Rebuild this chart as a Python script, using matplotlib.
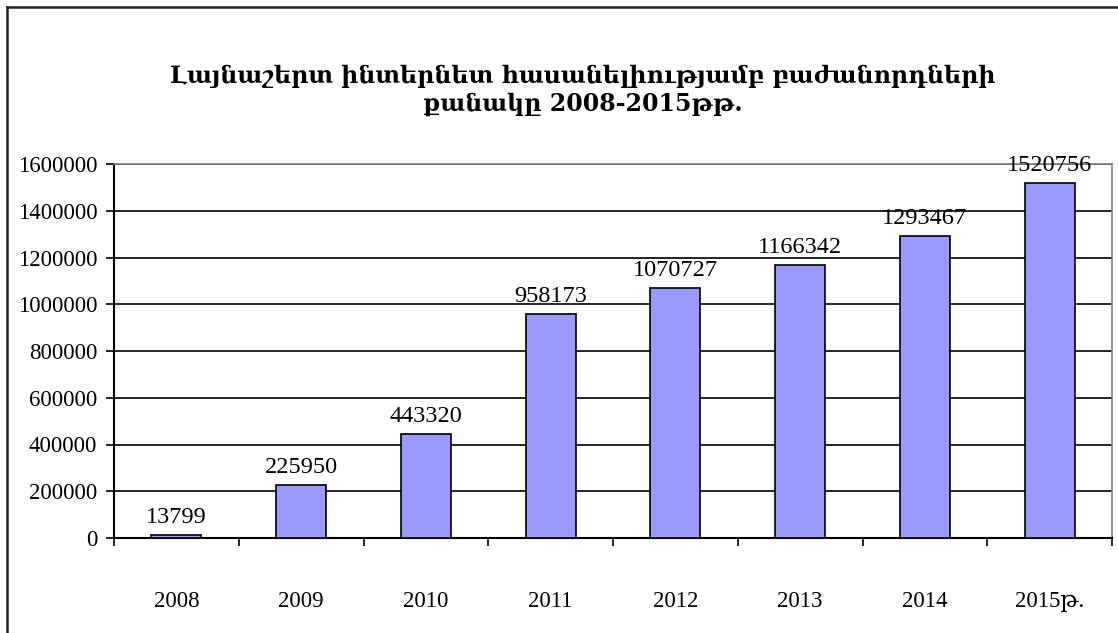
import numpy as np
import matplotlib.pyplot as plt
from matplotlib.lines import Line2D

years = ['2008', '2009', '2010', '2011', '2012', '2013', '2014', '2015թ.']
subscribers = [13799, 225950, 443320, 958173, 1070727, 1166342, 1293467, 1520756]
yticks = [0, 200000, 400000, 600000, 800000, 1000000, 1200000, 1400000, 1600000]
title = 'Լայնաշերտ ինտերնետ հասանելիությամբ բաժանորդների\nքանակը 2008-2015թթ.'

serif = ['Liberation Serif', 'DejaVu Serif']
fig = plt.figure(figsize=(11.18, 6.33), dpi=100)
ax = fig.add_axes([114/1118, 1 - 538/633, 998/1118, 374/633])

x = np.arange(len(years))
ax.bar(x, subscribers, width=0.4, color='#9999ff', edgecolor='black', linewidth=1.2, zorder=3)
for xi, v in zip(x, subscribers):
    ax.annotate(str(v), (xi, v), xytext=(0, 5), textcoords='offset points',
                ha='center', va='bottom', fontsize=17.5, family=serif, zorder=4)

ax.set_xlim(-0.5, len(years) - 0.5)
ax.set_ylim(0, 1600000)
ax.set_yticks(yticks)
ax.set_yticklabels([str(t) for t in yticks], family=serif, fontsize=16.5)
ax.yaxis.grid(True, color='black', linewidth=1.2, zorder=0)
ax.set_axisbelow(True)

ax.set_xticks(x)
ax.set_xticklabels(years, family=serif, fontsize=16.5)
ax.set_xticks(np.arange(len(years) + 1) - 0.5, minor=True)
ax.tick_params(axis='x', which='major', length=0, pad=38)
ax.tick_params(axis='x', which='minor', length=6, width=1.2, direction='out')
ax.tick_params(axis='y', length=6, width=1.2, direction='out', pad=6)

for s in ['left', 'bottom']:
    ax.spines[s].set_linewidth(1.5)
    ax.spines[s].set_color('black')
for s in ['top', 'right']:
    ax.spines[s].set_color('#808080')
    ax.spines[s].set_linewidth(1.2)

fig.text(583/1118, 1 - 90/633, title, ha='center', va='center', fontsize=17,
         fontweight='bold', family=['DejaVu Serif'], linespacing=1.15)

# outer chart frame (top and left edges visible)
fig.add_artist(Line2D([7/1118, 7/1118], [0, 1 - 7/633], color='#222222', linewidth=1.8))
fig.add_artist(Line2D([7/1118, 1], [1 - 7/633, 1 - 7/633], color='#222222', linewidth=1.8))

fig.savefig('out.png', dpi=100)
